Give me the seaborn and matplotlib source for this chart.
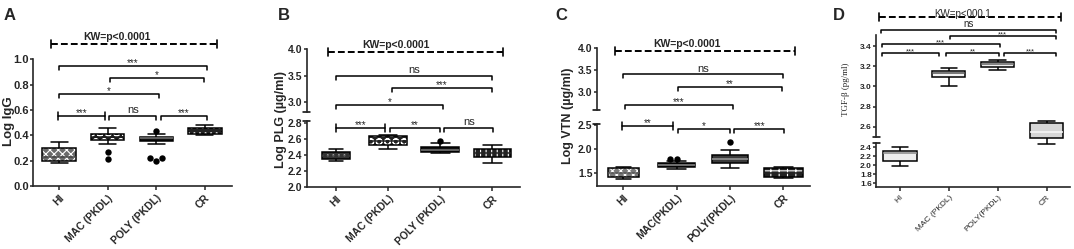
import numpy as np
import pandas as pd
import matplotlib
matplotlib.use('Agg')
import matplotlib.pyplot as plt
import seaborn as sns
from matplotlib.colors import to_rgba
from matplotlib.ticker import FormatStrFormatter

# ------------------------------------------------------------
# data
# ------------------------------------------------------------
groups_a = ['HI', 'MAC (PKDL)', 'POLY (PKDL)', 'CR']
groups_b = ['HI', 'MAC (PKDL)', 'POLY (PKDL)', 'CR']
groups_c = ['HI', 'MAC(PKDL)', 'POLY(PKDL)', 'CR']
groups_d = ['HI', 'MAC (PKDL)', 'POLY(PKDL)', 'CR']

# A: Log IgG  (min, q1, median, q3, max per group)
igg_min = [0.185, 0.33, 0.33, 0.40]
igg_q1 = [0.20, 0.363, 0.357, 0.41]
igg_med = [0.23, 0.39, 0.375, 0.44]
igg_q3 = [0.297, 0.41, 0.39, 0.46]
igg_max = [0.345, 0.455, 0.41, 0.48]
igg_out_grp = ['MAC (PKDL)', 'MAC (PKDL)', 'POLY (PKDL)', 'POLY (PKDL)', 'POLY (PKDL)', 'POLY (PKDL)']
igg_out_val = [0.27, 0.21, 0.435, 0.22, 0.20, 0.22]
igg_pairs = [(0, 3), (1, 3), (0, 2), (0, 1), (1, 2), (2, 3)]
igg_sig = ['***', '*', '*', '***', 'ns', '***']
igg_bar = [0.947, 0.855, 0.724, 0.555, 0.555, 0.555]

# B: Log PLG
plg_min = [2.32, 2.47, 2.42, 2.30]
plg_q1 = [2.35, 2.53, 2.434, 2.37]
plg_med = [2.39, 2.58, 2.46, 2.43]
plg_q3 = [2.434, 2.64, 2.50, 2.48]
plg_max = [2.47, 2.65, 2.55, 2.53]
plg_out_grp = ['POLY (PKDL)']
plg_out_val = [2.58]
plg_pairs = [(0, 3), (1, 3), (0, 2), (0, 1), (1, 2), (2, 3)]
plg_sig = ['ns', '***', '*', '***', '**', 'ns']
plg_bar = [3.50, 3.28, 2.96, 2.74, 2.74, 2.74]

# C: Log VTN
vtn_min = [1.36, 1.57, 1.61, 1.39]
vtn_q1 = [1.41, 1.62, 1.71, 1.42]
vtn_med = [1.50, 1.66, 1.80, 1.50]
vtn_q3 = [1.59, 1.71, 1.87, 1.60]
vtn_max = [1.62, 1.74, 1.99, 1.62]
vtn_out_grp = ['MAC(PKDL)', 'MAC(PKDL)', 'POLY(PKDL)']
vtn_out_val = [1.80, 1.80, 2.14]
vtn_pairs = [(0, 3), (1, 3), (0, 2), (0, 1), (1, 2), (2, 3)]
vtn_sig = ['ns', '**', '***', '**', '*', '***']
vtn_bar = [3.40, 3.11, 2.70, 2.48, 2.43, 2.43]

# D: TGF-beta
tgf_min = [1.99, 3.00, 3.16, 2.43]
tgf_q1 = [2.10, 3.09, 3.19, 2.49]
tgf_med = [2.27, 3.13, 3.22, 2.55]
tgf_q3 = [2.32, 3.15, 3.24, 2.64]
tgf_max = [2.40, 3.18, 3.26, 2.66]
tgf_pairs = [(0, 3), (1, 3), (0, 2), (0, 1), (1, 2), (2, 3)]
tgf_sig = ['ns', '***', '***', '***', '**', '***']
tgf_bar = [3.56, 3.50, 3.417, 3.33, 3.33, 3.33]

# ------------------------------------------------------------
# style
# ------------------------------------------------------------
sns.set_style('ticks')
plt.rcParams['font.family'] = ['Liberation Sans', 'DejaVu Sans']
plt.rcParams['hatch.linewidth'] = 0.8
plt.rcParams['axes.linewidth'] = 1.2

W, H = 1074, 249
fig = plt.figure(figsize=(W / 100, H / 100), dpi=100)


def rect(l, r, t, b):
    return [l / W, 1 - b / H, (r - l) / W, (b - t) / H]


def px2y(ax, px):
    y0, y1 = ax.get_ylim()
    return px * (y1 - y0) / ax.bbox.height


def draw_boxes(ax, groups, lo, q1, med, q3, hi, keep, looks, widths, noclip=False):
    for i, g in enumerate(groups):
        if not keep[i]:
            continue
        d = pd.DataFrame({'grp': [g] * 5, 'val': [lo[i], q1[i], med[i], q3[i], hi[i]]})
        sns.boxplot(data=d, x='grp', y='val', order=groups, whis=(0, 100), width=widths[i],
                    color=looks[i][0], saturation=1, linecolor='black', linewidth=1.1,
                    showfliers=False, ax=ax)
        c = ax.containers[-1]
        box = c.boxes[0]
        box.set_facecolor(looks[i][0])
        if looks[i][1]:
            box.set_hatch(looks[i][1])
            box._hatch_color = to_rgba('white')
        for m in c.medians:
            m.set_color(looks[i][2])
        if noclip:
            for a in [box] + list(c.medians) + list(c.whiskers) + list(c.caps):
                a.set_clip_on(False)
    ax.set_xlabel('')
    ax.set_ylabel('')


def draw_out(ax, groups, grp, val):
    d = pd.DataFrame({'grp': grp, 'val': val})
    sns.swarmplot(data=d, x='grp', y='val', order=groups, color='black', size=4.6, ax=ax, zorder=5)
    ax.set_xlabel('')
    ax.set_ylabel('')


def bracket(ax, x0, x1, y, text, drop=4, both=False, fs_star=7, fs_ns=8, ns_pad=0.5):
    h = px2y(ax, drop)
    ax.plot([x0, x0, x1, x1], [y - h, y, y, y - h], color='black', lw=1.1, clip_on=False)
    if both:
        ax.plot([x0, x0], [y, y + h], color='black', lw=1.1, clip_on=False)
        ax.plot([x1, x1], [y, y + h], color='black', lw=1.1, clip_on=False)
    fs = fs_ns if text == 'ns' else fs_star
    ax.annotate(text, xy=((x0 + x1) / 2, y), xytext=(0, ns_pad if text == 'ns' else -1.5),
                textcoords='offset points', ha='center', va='bottom', fontsize=fs,
                annotation_clip=False)


def kw_line(ax, x0, x1, y, tx, text, fs=7.5, weight='bold', dy=1.5):
    c = px2y(ax, 4)
    ax.plot([x0, x1], [y, y], color='black', lw=1.4, ls=(0, (3.5, 1.6)), clip_on=False)
    for x in (x0, x1):
        ax.plot([x, x], [y - c, y + c], color='black', lw=1.2, clip_on=False)
    ax.annotate(text, xy=(tx, y), xytext=(0, dy), textcoords='offset points', ha='center',
                va='bottom', fontsize=fs, fontweight=weight, annotation_clip=False)


def style_axis(ax, xlim, ylim, yticks, fs=7.5, xlabels=None, xfs=7.5, xweight='bold', top=False):
    ax.set_xlim(*xlim)
    ax.set_ylim(*ylim)
    ax.set_yticks(yticks)
    ax.yaxis.set_major_formatter(FormatStrFormatter('%.1f'))
    ax.tick_params(axis='y', direction='out', length=2.5, width=1.1, pad=0.5, labelsize=fs)
    for lab in ax.get_yticklabels():
        lab.set_fontweight('bold')
    sns.despine(ax=ax)
    ax.patch.set_alpha(0)
    if top:
        ax.spines['bottom'].set_visible(False)
        ax.tick_params(axis='x', bottom=False, labelbottom=False)
    else:
        ax.set_xticks(range(4))
        ax.set_xticklabels(xlabels, rotation=45, ha='right', va='top', rotation_mode='anchor',
                           fontsize=xfs, fontweight=xweight)
        ax.tick_params(axis='x', direction='out', length=3, width=1.1, pad=2)


def break_marks(ax, where):
    w = 3.5 / ax.bbox.width
    ax.plot([-w, w], [where, where], transform=ax.transAxes, color='black', lw=1.1, clip_on=False)


def brackets(ax_hi, ax_lo, pairs, sig, bar, seg, lefts, rights, drop=4, fs_star=7, fs_ns=8):
    for k, (i, j) in enumerate(pairs):
        ax = ax_hi if seg[k] == 'hi' else ax_lo
        bracket(ax, lefts[k], rights[k], bar[k], sig[k], drop=drop, both=(i, j) == (0, 1) and drop > 3,
                fs_star=fs_star, fs_ns=fs_ns)


# ------------------------------------------------------------
# A
# ------------------------------------------------------------
looks_a = [('#6b6b6b', 'xxxx', '#444444'), ('#1c1c1c', 'OO', '#1c1c1c'),
           ('#111111', '', '#777777'), ('#222222', '...', '#222222')]
ax_a = fig.add_axes(rect(33, 232, 59.3, 186))
draw_boxes(ax_a, groups_a, igg_min, igg_q1, igg_med, igg_q3, igg_max, [1, 1, 1, 1], looks_a, [0.69] * 4)
draw_out(ax_a, groups_a, igg_out_grp, igg_out_val)
style_axis(ax_a, (-0.54, 3.56), (0, 1.0), np.arange(0, 1.01, 0.2), fs=8, xlabels=groups_a)
brackets(ax_a, ax_a, igg_pairs, igg_sig, igg_bar, ['lo'] * 6,
         [0, 1.05, 0, -0.02, 1.03, 2.1], [3.04, 2.98, 2.06, 0.94, 2.0, 3.04])
kw_line(ax_a, -0.16, 3.25, 1.12, 1.18, 'KW=p<0.0001')

# ------------------------------------------------------------
# B
# ------------------------------------------------------------
looks_b = [('#333333', '...', '#333333'), ('#222222', 'OO', '#222222'),
           ('#111111', '', '#777777'), ('#222222', '|||', '#222222')]
ax_b_hi = fig.add_axes(rect(306.7, 520, 49.3, 112))
ax_b_lo = fig.add_axes(rect(306.7, 520, 121, 186.7))
draw_boxes(ax_b_lo, groups_b, plg_min, plg_q1, plg_med, plg_q3, plg_max, [1, 1, 1, 1], looks_b,
           [0.55, 0.72, 0.72, 0.72])
draw_out(ax_b_lo, groups_b, plg_out_grp, plg_out_val)
style_axis(ax_b_hi, (-0.56, 3.53), (2.82, 4.0), [3.0, 3.5, 4.0], top=True)
style_axis(ax_b_lo, (-0.56, 3.53), (2.0, 2.83), np.arange(2.0, 2.81, 0.2), xlabels=groups_b)
break_marks(ax_b_hi, 0)
break_marks(ax_b_lo, 1)
brackets(ax_b_hi, ax_b_lo, plg_pairs, plg_sig, plg_bar, ['hi', 'hi', 'hi', 'lo', 'lo', 'lo'],
         [0.01, 1.07, 0, 0, 1.04, 2.08], [3.0, 2.99, 2.06, 0.94, 2.0, 3.02])
kw_line(ax_b_hi, -0.15, 3.21, 3.94, 1.16, 'KW=p<0.0001')

# ------------------------------------------------------------
# C
# ------------------------------------------------------------
looks_c = [('#7a7a7a', 'xxxx', '#555555'), ('#151515', '', '#8a8a8a'),
           ('#3a3a3a', '', '#9a9a9a'), ('#222222', '++', '#222222')]
ax_c_hi = fig.add_axes(rect(596.7, 810, 48, 110))
ax_c_lo = fig.add_axes(rect(596.7, 810, 123.5, 185.5))
draw_boxes(ax_c_lo, groups_c, vtn_min, vtn_q1, vtn_med, vtn_q3, vtn_max, [1, 1, 1, 1], looks_c,
           [0.58, 0.69, 0.69, 0.72])
draw_out(ax_c_lo, groups_c, vtn_out_grp, vtn_out_val)
style_axis(ax_c_hi, (-0.5, 3.5), (2.58, 4.0), [3.0, 3.5, 4.0], top=True)
style_axis(ax_c_lo, (-0.5, 3.5), (1.23, 2.54), [1.5, 2.0, 2.5], xlabels=groups_c)
break_marks(ax_c_hi, 0)
break_marks(ax_c_lo, 1)
brackets(ax_c_hi, ax_c_lo, vtn_pairs, vtn_sig, vtn_bar, ['hi', 'hi', 'hi', 'lo', 'lo', 'lo'],
         [0.0, 1.02, 0.03, -0.02, 1.02, 2.08], [3.0, 2.98, 2.05, 0.93, 2.0, 3.02])
kw_line(ax_c_hi, -0.16, 3.22, 3.93, 1.19, 'KW=p<0.0001')

# ------------------------------------------------------------
# D
# ------------------------------------------------------------
looks_d = [('#eeeeee', '', '#888888'), ('#f4f4f4', '', '#555555'),
           ('#eeeeee', '', '#666666'), ('#d6d6d6', '', '#f8f8f8')]
ax_d_hi = fig.add_axes(rect(876, 1070, 35, 137.3))
ax_d_lo = fig.add_axes(rect(876, 1070, 143.3, 186.7))
draw_boxes(ax_d_lo, groups_d, tgf_min, tgf_q1, tgf_med, tgf_q3, tgf_max, [1, 0, 0, 0], looks_d, [0.68] * 4)
draw_boxes(ax_d_hi, groups_d, tgf_min, tgf_q1, tgf_med, tgf_q3, tgf_max, [0, 1, 1, 1], looks_d, [0.68] * 4,
           noclip=True)
style_axis(ax_d_hi, (-0.49, 3.48), (2.495, 3.51), [2.6, 2.8, 3.0, 3.2, 3.4], fs=6, top=True)
style_axis(ax_d_lo, (-0.49, 3.48), (1.52, 2.49), [1.6, 1.8, 2.0, 2.2, 2.4], fs=6,
           xlabels=groups_d, xfs=6, xweight='normal')
break_marks(ax_d_hi, 0)
break_marks(ax_d_lo, 1)
brackets(ax_d_hi, ax_d_hi, tgf_pairs, tgf_sig, tgf_bar, ['hi'] * 6,
         [-0.39, 1.02, -0.37, -0.37, 0.94, 2.13], [3.19, 3.19, 2.04, 0.80, 2.03, 3.19],
         drop=3, fs_star=5.5, fs_ns=7)
kw_line(ax_d_hi, -0.43, 3.29, 3.69, 1.29, 'KW=p<000.1', fs=7, weight='normal', dy=-1.5)

# ------------------------------------------------------------
# labels
# ------------------------------------------------------------
fig.text(9 / W, 1 - 121 / H, 'Log IgG', rotation=90, ha='center', va='center', fontsize=9.5,
         fontweight='bold')
fig.text(281 / W, 1 - 120 / H, 'Log PLG (µg/ml)', rotation=90, ha='center', va='center', fontsize=9,
         fontweight='bold')
fig.text(568 / W, 1 - 116 / H, 'Log VTN (µg/ml)', rotation=90, ha='center', va='center', fontsize=9,
         fontweight='bold')
fig.text(846 / W, 1 - 89 / H, 'TGF-β (pg/ml)', rotation=90, ha='center', va='center', fontsize=6.5,
         family=['Liberation Serif', 'DejaVu Serif'])

for letter, x in [('A', 9.5), ('B', 284), ('C', 561), ('D', 839)]:
    fig.text(x / W, 1 - 15 / H, letter, ha='center', va='center', fontsize=12, fontweight='bold')

fig.savefig('out.png', dpi=100)
